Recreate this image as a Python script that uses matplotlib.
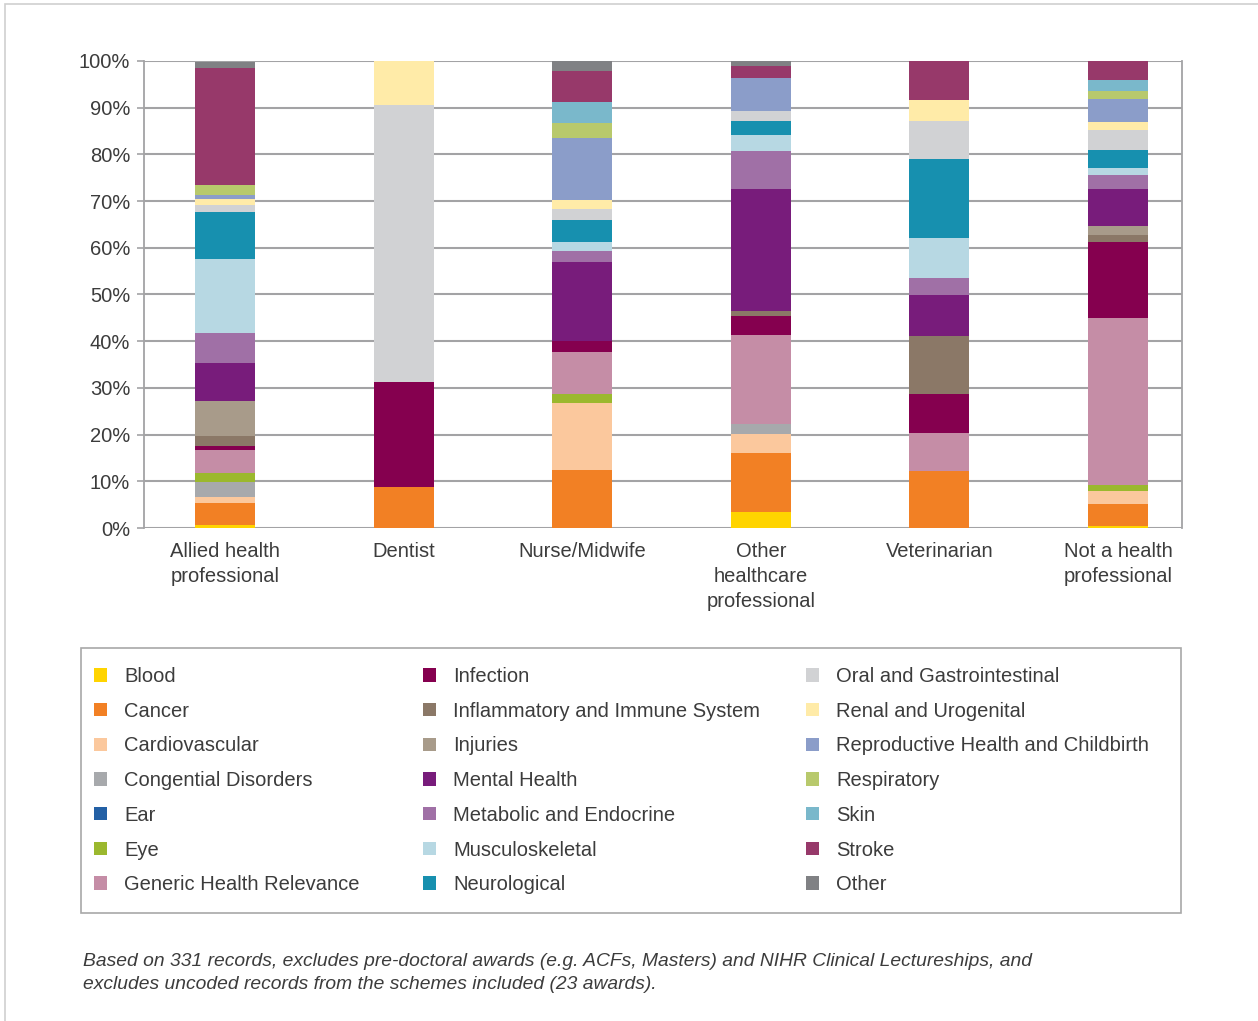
import numpy as np
import matplotlib.pyplot as plt
from matplotlib.patches import Rectangle, Patch

plt.rcParams["font.family"] = ["Liberation Sans", "DejaVu Sans"]

groups = ["Allied health\nprofessional", "Dentist", "Nurse/Midwife",
          "Other\nhealthcare\nprofessional", "Veterinarian", "Not a health\nprofessional"]

topics = ["Blood", "Cancer", "Cardiovascular", "Congential Disorders", "Ear", "Eye",
          "Generic Health Relevance", "Infection", "Inflammatory and Immune System",
          "Injuries", "Mental Health", "Metabolic and Endocrine", "Musculoskeletal",
          "Neurological", "Oral and Gastrointestinal", "Renal and Urogenital",
          "Reproductive Health and Childbirth", "Respiratory", "Skin", "Stroke", "Other"]

colours = ["#FFD400", "#F28024", "#FBC89D", "#A7A9AC", "#2360A5", "#9BB82E",
           "#C58DA6", "#85004F", "#8B7867", "#A89B8A", "#781C7B", "#A070A6",
           "#B7D8E3", "#1790AF", "#D1D2D4", "#FFEBA8", "#8B9DC9", "#B8C96C",
           "#7AB8CB", "#97396A", "#808184"]

# share of awards (%) per topic, one value per group
blood = [0.7, 0, 0, 3.5, 0, 0.5]
cancer = [4.7, 8.8, 12.5, 12.6, 12.1, 4.7]
cardiovascular = [1.3, 0, 14.3, 4.1, 0, 2.8]
congenital = [3.2, 0, 0, 2.1, 0, 0]
ear = [0, 0, 0, 0, 0, 0]
eye = [1.9, 0, 2.0, 0, 0, 1.3]
generic = [4.9, 0, 8.9, 19.0, 8.3, 35.6]
infection = [0.9, 22.5, 2.4, 4.1, 8.3, 16.3]
inflammatory = [2.1, 0, 0, 1.1, 12.4, 1.5]
injuries = [7.5, 0, 0, 0, 0, 1.9]
mental = [8.1, 0, 16.9, 26.1, 8.8, 8.0]
metabolic = [6.4, 0, 2.4, 8.1, 3.6, 3.0]
musculoskeletal = [15.9, 0, 1.9, 3.4, 8.6, 1.5]
neurological = [10.1, 0, 4.7, 3.0, 16.9, 3.8]
oral = [1.5, 59.3, 2.4, 2.1, 8.1, 4.3]
renal = [1.3, 9.4, 1.9, 0, 4.5, 1.7]
reproductive = [0.9, 0, 13.3, 7.1, 0, 5.0]
respiratory = [2.1, 0, 3.1, 0, 0, 1.7]
skin = [0, 0, 4.5, 0, 0, 2.3]
stroke = [24.9, 0, 6.6, 2.6, 8.3, 4.1]
other = [1.4, 0, 2.1, 1.1, 0, 0]

series = [blood, cancer, cardiovascular, congenital, ear, eye, generic, infection,
          inflammatory, injuries, mental, metabolic, musculoskeletal, neurological,
          oral, renal, reproductive, respiratory, skin, stroke, other]

text_col = "#3c3c3c"
grid_col = "#a3a3a5"

fig = plt.figure(figsize=(12.58, 10.21), dpi=100, facecolor="white")

# thin outer frame
fig.patches.append(Rectangle((5 / 1258, -0.05), 1.2, 1 - 4 / 1021 + 0.05,
                             transform=fig.transFigure, fill=False,
                             edgecolor="#cfcfcf", linewidth=1.2))

ax = fig.add_axes([144 / 1258, 1 - 528 / 1021, (1182 - 144) / 1258, (528 - 61) / 1021])

x = np.arange(len(groups))
bottom = np.zeros(len(groups))
for vals, col in zip(series, colours):
    vals = np.array(vals, dtype=float)
    ax.bar(x, vals, 0.336, bottom=bottom, color=col, zorder=3, linewidth=0)
    bottom += vals

ax.set_xlim(-0.453, 5.358)
ax.set_ylim(0, 100)
ax.set_yticks(np.arange(0, 101, 10))
ax.set_yticklabels([f"{v}%" for v in range(0, 101, 10)])
ax.set_xticks(x)
ax.set_xticklabels(groups, linespacing=1.4)
ax.yaxis.grid(True, color=grid_col, linewidth=1.5, zorder=0)
ax.tick_params(axis="y", length=5, width=1.2, color=grid_col, labelsize=14.5,
               labelcolor=text_col, pad=5)
ax.tick_params(axis="x", length=0, labelsize=14.5, labelcolor=text_col, pad=10)
for side in ["top", "bottom"]:
    ax.spines[side].set_visible(False)
for side in ["left", "right"]:
    ax.spines[side].set_color(grid_col)
    ax.spines[side].set_linewidth(1.3)

# legend: boxed, three columns
fig.patches.append(Rectangle((81 / 1258, 1 - 913 / 1021), 1100 / 1258, 265 / 1021,
                             transform=fig.transFigure, fill=False,
                             edgecolor="#a8a8a8", linewidth=1.2))
handles = [Patch(facecolor=c, edgecolor="none") for c in colours]
col_x = [94, 423, 806]
for i in range(3):
    leg = fig.legend(handles[i * 7:(i + 1) * 7], topics[i * 7:(i + 1) * 7],
                     loc="upper left", bbox_to_anchor=(col_x[i] / 1258, 1 - 667 / 1021),
                     frameon=False, fontsize=14.5, labelcolor=text_col,
                     handlelength=0.65, handleheight=0.65, handletextpad=0.85,
                     labelspacing=0.78, borderaxespad=0, borderpad=0)

fig.text(83 / 1258, 1 - 973 / 1021,
         "Based on 331 records, excludes pre-doctoral awards (e.g. ACFs, Masters) and NIHR Clinical Lectureships, and\n"
         "excludes uncoded records from the schemes included (23 awards).",
         fontsize=13.9, style="italic", color=text_col, va="center", linespacing=1.45)

plt.savefig("out.png", dpi=100)
